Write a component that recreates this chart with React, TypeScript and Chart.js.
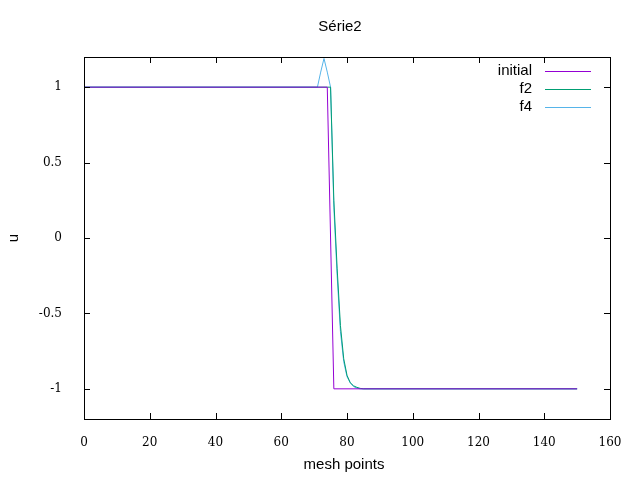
import { useEffect, useRef } from 'react';
import Chart from 'chart.js/auto';

const initialX = [0, 74, 75, 76, 150];
const initialY = [1, 1, 0, -1, -1];
const f2X = [0, 74, 75, 76, 77, 78, 79, 80, 81, 82, 83, 84, 85, 150];
const f2Y = [1, 1, 1, 0.25, -0.2, -0.58, -0.8, -0.91, -0.96, -0.98, -0.99, -0.997, -1, -1];
const f4X = [0, 71, 72, 73, 74, 75, 76, 77, 78, 79, 80, 81, 82, 83, 84, 150];
const f4Y = [1, 1, 1.1, 1.19, 1.1, 1.0, 0.2, -0.25, -0.62, -0.82, -0.92, -0.96, -0.985, -0.995, -1, -1];
const xTicks = [0, 20, 40, 60, 80, 100, 120, 140, 160];
const yTicks = [-1, -0.5, 0, 0.5, 1];
const labels = ['initial', 'f2', 'f4'];
const colors = ['#9400d3', '#009e73', '#56b4e9'];

const pts = (xs: number[], ys: number[]) => xs.map((x, i) => ({ x, y: ys[i] }));

const gnuplotLook = {
  id: 'gnuplotLook',
  afterDraw(chart: any) {
    const { ctx, chartArea: a, scales } = chart;
    ctx.save();
    ctx.strokeStyle = '#000';
    ctx.lineWidth = 1;
    ctx.strokeRect(a.left + 0.5, a.top + 0.5, a.right - a.left, a.bottom - a.top);
    ctx.beginPath();
    xTicks.forEach((v) => {
      const px = Math.round(scales.x.getPixelForValue(v)) + 0.5;
      ctx.moveTo(px, a.bottom); ctx.lineTo(px, a.bottom - 6);
      ctx.moveTo(px, a.top); ctx.lineTo(px, a.top + 6);
    });
    yTicks.forEach((v) => {
      const py = Math.round(scales.y.getPixelForValue(v)) + 0.5;
      ctx.moveTo(a.left, py); ctx.lineTo(a.left + 6, py);
      ctx.moveTo(a.right, py); ctx.lineTo(a.right - 6, py);
    });
    ctx.stroke();
    ctx.fillStyle = '#000';
    ctx.font = '15px "Liberation Sans", Arial, sans-serif';
    ctx.textAlign = 'center';
    ctx.textBaseline = 'middle';
    ctx.fillText('Série2', 340, 27);
    ctx.fillText('mesh points', 344, 465);
    ctx.save();
    ctx.translate(14, 238);
    ctx.rotate(-Math.PI / 2);
    ctx.fillText('u', 0, 0);
    ctx.restore();
    labels.forEach((label, i) => {
      const y = 71 + i * 18;
      ctx.textAlign = 'right';
      ctx.fillStyle = '#000';
      ctx.fillText(label, 532, y);
      ctx.strokeStyle = colors[i];
      ctx.beginPath();
      ctx.moveTo(545, y + 0.5); ctx.lineTo(591, y + 0.5);
      ctx.stroke();
    });
    ctx.restore();
  },
};

export default function App() {
  const ref = useRef<HTMLCanvasElement>(null);
  useEffect(() => {
    document.body.style.margin = '0';
    if (!ref.current) return;
    const chart = new Chart(ref.current, {
      type: 'line',
      data: {
        datasets: [
          { label: labels[0], data: pts(initialX, initialY), borderColor: colors[0], borderWidth: 1, pointRadius: 0 },
          { label: labels[1], data: pts(f2X, f2Y), borderColor: colors[1], borderWidth: 1, pointRadius: 0 },
          { label: labels[2], data: pts(f4X, f4Y), borderColor: colors[2], borderWidth: 1, pointRadius: 0 },
        ],
      },
      options: {
        animation: false,
        responsive: false,
        layout: { padding: { top: 57, right: 30 } },
        plugins: { legend: { display: false }, tooltip: { enabled: false } },
        scales: {
          x: {
            type: 'linear', min: 0, max: 160,
            afterBuildTicks: (s: any) => { s.ticks = xTicks.map((v) => ({ value: v })); },
            afterFit: (s: any) => { s.height = 61; },
            grid: { display: false },
            border: { display: false },
            ticks: { color: '#000', padding: 9, callback: (v: any) => String(v), font: { family: '"DejaVu Serif", serif', size: 12 } },
          },
          y: {
            type: 'linear', min: -1.2, max: 1.2,
            afterBuildTicks: (s: any) => { s.ticks = yTicks.map((v) => ({ value: v })); },
            afterFit: (s: any) => { s.width = 84; },
            grid: { display: false },
            border: { display: false },
            ticks: { color: '#000', padding: 14, callback: (v: any) => String(v), font: { family: '"DejaVu Serif", serif', size: 12 } },
          },
        },
      },
      plugins: [gnuplotLook],
    });
    return () => chart.destroy();
  }, []);
  return <canvas ref={ref} width={640} height={480} style={{ display: 'block', background: '#fff' }} />;
}
